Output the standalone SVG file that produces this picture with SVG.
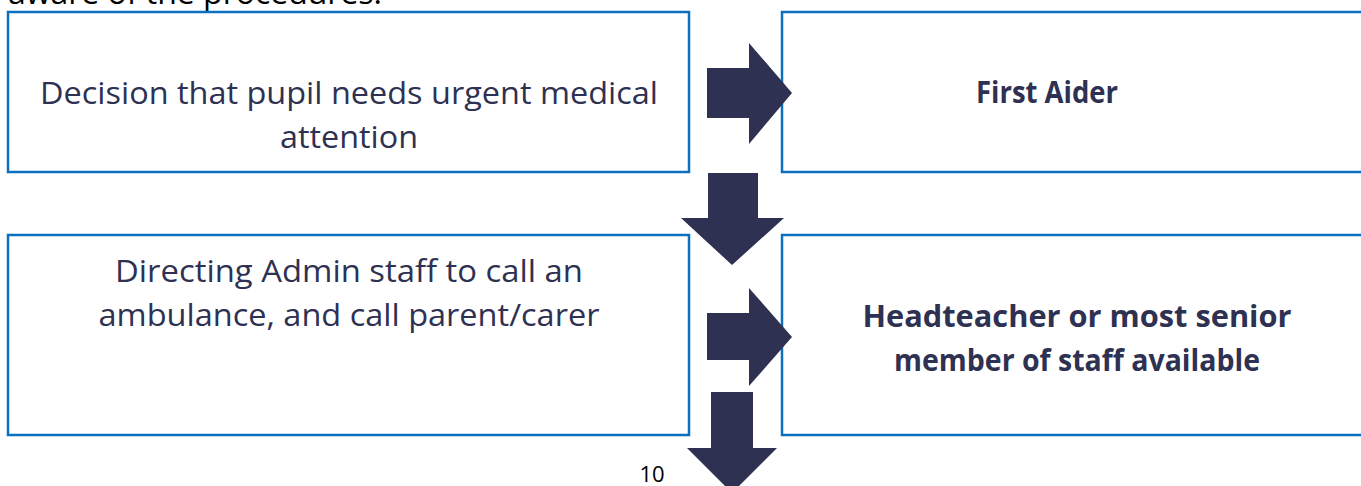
<svg xmlns="http://www.w3.org/2000/svg" width="1361" height="486" viewBox="0 0 1361 486">
<style>
.box{fill:#ffffff;stroke:#0b70c0;stroke-width:2.5}
.arrow{fill:#2e3151}
.t{font-family:"Open Sans","Liberation Sans",sans-serif;font-size:31px;fill:#2e3151;text-anchor:middle}
.b{font-weight:bold;font-size:30px}
.page{font-family:"Open Sans","Liberation Sans",sans-serif;fill:#000000}
</style>
<rect width="1361" height="486" fill="#ffffff"/>
<text class="page" x="8" y="4" font-size="31" textLength="374" lengthAdjust="spacingAndGlyphs">aware of the procedures.</text>
<g id="node-decision">
<rect class="box" x="8" y="12" width="681" height="160"/>
<text class="t" x="349" y="104" textLength="618" lengthAdjust="spacingAndGlyphs">Decision that pupil needs urgent medical</text>
<text class="t" x="349" y="148" textLength="138" lengthAdjust="spacingAndGlyphs">attention</text>
</g>
<g id="node-firstaider">
<rect class="box" x="782" y="12" width="600" height="160"/>
<text class="t b" x="1047" y="103" textLength="142" lengthAdjust="spacingAndGlyphs">First Aider</text>
</g>
<g id="node-directing">
<rect class="box" x="8" y="235" width="681" height="200"/>
<text class="t" x="349" y="282" textLength="468" lengthAdjust="spacingAndGlyphs">Directing Admin staff to call an</text>
<text class="t" x="349" y="326" textLength="501" lengthAdjust="spacingAndGlyphs">ambulance, and call parent/carer</text>
</g>
<g id="node-headteacher">
<rect class="box" x="782" y="235" width="600" height="200"/>
<text class="t b" x="1077" y="327" textLength="429" lengthAdjust="spacingAndGlyphs">Headteacher or most senior</text>
<text class="t b" x="1077" y="371" textLength="366" lengthAdjust="spacingAndGlyphs">member of staff available</text>
</g>
<g id="connectors">
<polygon class="arrow" points="707,68 749,68 749,43 792,93 749,144 749,118 707,118"/>
<polygon class="arrow" points="708,173 758,173 758,218 784,218 732,265 681,218 708,218"/>
<polygon class="arrow" points="707,313 749,313 749,288 792,337 749,386 749,360 707,360"/>
<polygon class="arrow" points="711,392 753,392 753,448 777,448 732,493 687,448 711,448"/>
</g>
<text class="page" x="652" y="482" font-size="22" text-anchor="middle">10</text>
</svg>
